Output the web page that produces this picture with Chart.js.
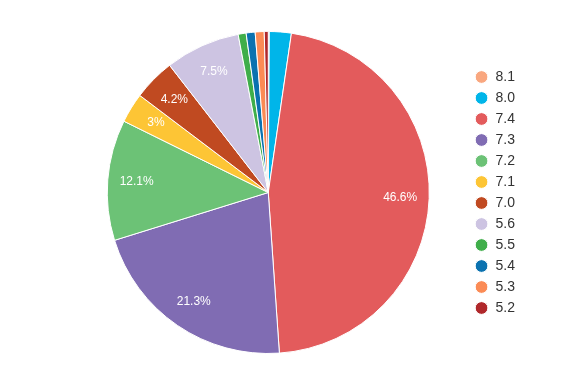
<!DOCTYPE html>
<html>
<head>
<meta charset="utf-8">
<script src="https://cdn.jsdelivr.net/npm/chart.js@4"></script>
<style>
  html, body { margin: 0; padding: 0; background: #fff; }
  #wrap { width: 584px; height: 384px; }
</style>
</head>
<body>
<div id="wrap"><canvas id="grafico"></canvas></div>
<script>
const categorias = ['8.1', '8.0', '7.4', '7.3', '7.2', '7.1', '7.0', '5.6', '5.5', '5.4', '5.3', '5.2'];
const valores = [0.1, 2.2, 46.6, 21.3, 12.1, 3.0, 4.2, 7.5, 0.8, 0.9, 0.9, 0.4];
const cores = ['#f9a77f', '#00b5e9', '#e35b5c', '#806cb3', '#6cc276', '#fdc535', '#c04a21',
               '#cdc4e2', '#3fae4a', '#0b72b0', '#fb8b55', '#b0282b'];

// rotulos de porcentagem dentro das fatias
const rotulos = {
    id: 'rotulos',
    afterDatasetsDraw(chart) {
        const ctx = chart.ctx;
        const meta = chart.getDatasetMeta(0);
        const total = valores.reduce((a, b) => a + b, 0);
        ctx.save();
        ctx.font = '12px "Liberation Sans", Arial, sans-serif';
        ctx.fillStyle = '#fff';
        ctx.textAlign = 'center';
        ctx.textBaseline = 'middle';
        meta.data.forEach((arc, i) => {
            const pct = valores[i] / total * 100;
            if (pct < 2.5) return;
            const meio = (arc.startAngle + arc.endAngle) / 2;
            const r = arc.outerRadius * 0.82;
            const x = arc.x + Math.cos(meio) * r;
            const y = arc.y + Math.sin(meio) * r;
            ctx.fillText(parseFloat(pct.toFixed(1)) + '%', x, y);
        });
        ctx.restore();
    }
};

new Chart(document.getElementById('grafico'), {
    type: 'pie',
    data: {
        labels: categorias,
        datasets: [{
            data: valores,
            backgroundColor: cores,
            borderColor: '#fff',
            borderWidth: 1
        }]
    },
    options: {
        responsive: true,
        maintainAspectRatio: false,
        animation: false,
        layout: { padding: { left: 69, right: 59, top: 31, bottom: 30 } },
        plugins: {
            tooltip: { enabled: false },
            legend: {
                position: 'right',
                labels: {
                    usePointStyle: true,
                    pointStyle: 'circle',
                    boxHeight: 9,
                    padding: 7,
                    color: '#333',
                    font: { size: 14, family: '"Liberation Sans", Arial, sans-serif' }
                }
            }
        }
    },
    plugins: [rotulos]
});
</script>
</body>
</html>
